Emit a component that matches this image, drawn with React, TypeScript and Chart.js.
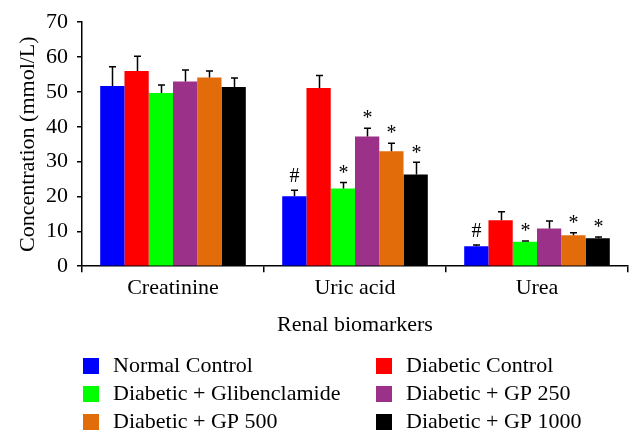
import React, { useEffect, useRef } from "react";
import { Chart, registerables } from "chart.js";

Chart.register(...registerables);

const categories = ["Creatinine", "Uric acid", "Urea"];
const seriesNames = [
  "Normal Control",
  "Diabetic Control",
  "Diabetic + Glibenclamide",
  "Diabetic + GP 250",
  "Diabetic + GP 500",
  "Diabetic + GP 1000",
];
const seriesColors = ["#0000FF", "#FF0000", "#00FF00", "#9B3189", "#E36C0A", "#000000"];

const normalControl = [51.7, 20.1, 5.75];
const diabeticControl = [56.0, 51.1, 13.2];
const glibenclamide = [49.7, 22.3, 7.0];
const gp250 = [53.0, 37.2, 10.8];
const gp500 = [54.1, 33.0, 8.9];
const gp1000 = [51.4, 26.3, 8.0];

const normalControlErr = [5.5, 1.7, 0.3];
const diabeticControlErr = [4.2, 3.6, 2.4];
const glibenclamideErr = [2.3, 1.7, 0.2];
const gp250Err = [3.3, 2.4, 2.2];
const gp500Err = [1.9, 2.3, 0.7];
const gp1000Err = [2.6, 3.5, 0.4];

const normalControlMarks = ["", "#", "#"];
const diabeticControlMarks = ["", "", ""];
const glibenclamideMarks = ["", "*", "*"];
const gp250Marks = ["", "*", ""];
const gp500Marks = ["", "*", "*"];
const gp1000Marks = ["", "*", "*"];

const yTicks = [0, 10, 20, 30, 40, 50, 60, 70];

const allValues = [normalControl, diabeticControl, glibenclamide, gp250, gp500, gp1000];
const allErrors = [normalControlErr, diabeticControlErr, glibenclamideErr, gp250Err, gp500Err, gp1000Err];
const allMarks = [normalControlMarks, diabeticControlMarks, glibenclamideMarks, gp250Marks, gp500Marks, gp1000Marks];

const FONT = "'Liberation Serif', 'DejaVu Serif', serif";

const errorBarPlugin = {
  id: "errorBars",
  afterDatasetsDraw(chart: any) {
    const ctx = chart.ctx;
    const y = chart.scales.y;
    ctx.save();
    chart.data.datasets.forEach((ds: any, i: number) => {
      const meta = chart.getDatasetMeta(i);
      meta.data.forEach((bar: any, j: number) => {
        const v = allValues[i][j];
        const top = y.getPixelForValue(v + allErrors[i][j]);
        const x = Math.round(bar.x) + 0.5;
        ctx.strokeStyle = "#000";
        ctx.lineWidth = 1.5;
        ctx.beginPath();
        ctx.moveTo(x, bar.y);
        ctx.lineTo(x, top);
        ctx.moveTo(x - 3.5, top);
        ctx.lineTo(x + 3.5, top);
        ctx.stroke();
        const m = allMarks[i][j];
        if (m) {
          ctx.fillStyle = "#000";
          ctx.font = `20px ${FONT}`;
          ctx.textAlign = "center";
          ctx.textBaseline = "middle";
          ctx.fillText(m, x, top - (m === "#" ? 13 : 9));
        }
      });
    });
    ctx.restore();
  },
};

const legendPlugin = {
  id: "twoColLegend",
  afterDraw(chart: any) {
    const ctx = chart.ctx;
    ctx.save();
    const colX = [83, 376];
    const rowY = [366, 394, 422];
    chart.data.datasets.forEach((ds: any, i: number) => {
      const col = i % 2;
      const row = Math.floor(i / 2);
      const x = colX[col];
      const yc = rowY[row];
      ctx.fillStyle = ds.backgroundColor;
      ctx.fillRect(x, yc - 8, 16, 16);
      ctx.fillStyle = "#000";
      ctx.font = `22px ${FONT}`;
      ctx.textAlign = "left";
      ctx.textBaseline = "middle";
      ctx.fillText(ds.label, x + 30, yc);
    });
    ctx.restore();
  },
};

export default function App() {
  const ref = useRef<HTMLCanvasElement | null>(null);
  useEffect(() => {
    if (!ref.current) return;
    const chart = new Chart(ref.current, {
      type: "bar",
      data: {
        labels: categories,
        datasets: seriesNames.map((name, i) => ({
          label: name,
          data: allValues[i],
          backgroundColor: seriesColors[i],
          borderWidth: 0,
          barPercentage: 1,
          categoryPercentage: 0.8,
        })),
      },
      options: {
        animation: false,
        responsive: false,
        devicePixelRatio: 1,
        layout: { padding: { top: 14, right: 15, bottom: 106, left: 0 } },
        plugins: {
          legend: { display: false },
          tooltip: { enabled: false },
        },
        scales: {
          x: {
            grid: {
              offset: true,
              drawOnChartArea: false,
              drawTicks: true,
              tickLength: 6,
              color: "#000",
              lineWidth: 1.5,
            },
            border: { color: "#000", width: 1.5 },
            ticks: { color: "#000", font: { family: FONT, size: 22 }, padding: 3 },
            title: {
              display: true,
              text: "Renal biomarkers",
              color: "#000",
              font: { family: FONT, size: 22 },
              padding: { top: 7, bottom: 0 },
            },
          },
          y: {
            min: 0,
            max: 70,
            afterFit: (scale: any) => {
              scale.width = 82;
            },
            afterBuildTicks: (scale: any) => {
              scale.ticks = yTicks.map((v) => ({ value: v }));
            },
            grid: {
              drawOnChartArea: false,
              drawTicks: true,
              tickLength: 5,
              color: "#000",
              lineWidth: 1.5,
            },
            border: { color: "#000", width: 1.5 },
            ticks: { color: "#000", font: { family: FONT, size: 22 }, padding: 9 },
            title: {
              display: true,
              text: "Concentration (mmol/L)",
              color: "#000",
              font: { family: FONT, size: 22 },
              padding: { top: 15, bottom: 0 },
            },
          },
        },
      },
      plugins: [errorBarPlugin, legendPlugin],
    });
    return () => chart.destroy();
  }, []);
  return (
    <div style={{ position: "fixed", left: 0, top: 0, width: 643, height: 444, background: "#fff" }}>
      <canvas ref={ref} width={643} height={444} />
    </div>
  );
}
